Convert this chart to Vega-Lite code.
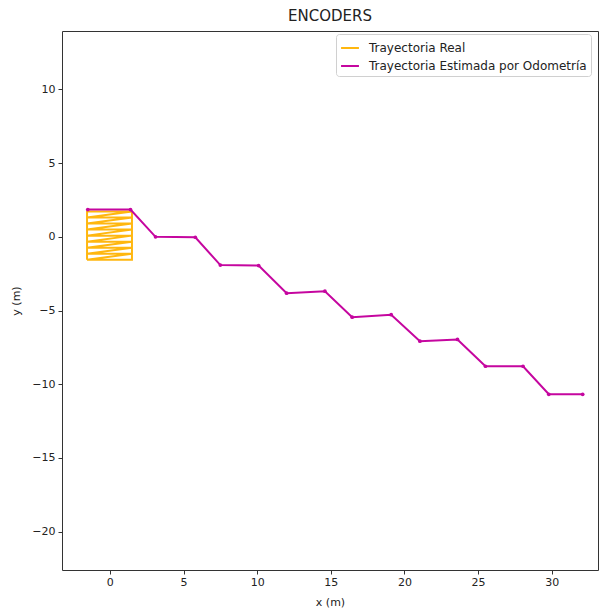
{
  "$schema": "https://vega.github.io/schema/vega-lite/v6.json",
  "width": 536,
  "height": 539,
  "autosize": {"type": "none"},
  "padding": {"left": 62, "top": 31, "right": 2, "bottom": 41},
  "title": {"text": "ENCODERS", "fontSize": 15, "fontWeight": "normal", "font": "DejaVu Sans", "color": "#222222", "offset": 7, "anchor": "middle"},
  "config": {
    "view": {"stroke": "#333333", "strokeWidth": 1},
    "font": "DejaVu Sans",
    "axis": {"grid": false, "domain": false, "tickColor": "#333333", "tickSize": 4, "labelFontSize": 11, "labelColor": "#222222", "labelFont": "DejaVu Sans", "titleFont": "DejaVu Sans", "titleFontSize": 11, "titleFontWeight": "normal", "titleColor": "#222222"}
  },
  "data": {
    "values": [
      {"serie": "Trayectoria Real", "i": 0, "x": -1.55, "y": 1.72},
      {"serie": "Trayectoria Real", "i": 1, "x": 1.5, "y": 1.72},
      {"serie": "Trayectoria Real", "i": 2, "x": -1.55, "y": 1.31},
      {"serie": "Trayectoria Real", "i": 3, "x": 1.5, "y": 1.31},
      {"serie": "Trayectoria Real", "i": 4, "x": -1.55, "y": 0.9},
      {"serie": "Trayectoria Real", "i": 5, "x": 1.5, "y": 0.9},
      {"serie": "Trayectoria Real", "i": 6, "x": -1.55, "y": 0.49},
      {"serie": "Trayectoria Real", "i": 7, "x": 1.5, "y": 0.49},
      {"serie": "Trayectoria Real", "i": 8, "x": -1.55, "y": 0.08},
      {"serie": "Trayectoria Real", "i": 9, "x": 1.5, "y": 0.08},
      {"serie": "Trayectoria Real", "i": 10, "x": -1.55, "y": -0.33},
      {"serie": "Trayectoria Real", "i": 11, "x": 1.5, "y": -0.33},
      {"serie": "Trayectoria Real", "i": 12, "x": -1.55, "y": -0.74},
      {"serie": "Trayectoria Real", "i": 13, "x": 1.5, "y": -0.74},
      {"serie": "Trayectoria Real", "i": 14, "x": -1.55, "y": -1.15},
      {"serie": "Trayectoria Real", "i": 15, "x": 1.5, "y": -1.15},
      {"serie": "Trayectoria Real", "i": 16, "x": -1.55, "y": -1.56},
      {"serie": "Trayectoria Real", "i": 17, "x": 1.5, "y": -1.56},
      {"serie": "Trayectoria Real", "i": 18, "x": 1.5, "y": 1.72},
      {"serie": "Trayectoria Real", "i": 19, "x": -1.55, "y": 1.72},
      {"serie": "Trayectoria Real", "i": 20, "x": -1.55, "y": -1.56},
      {"serie": "Trayectoria Estimada por Odometría", "i": 0, "x": -1.5, "y": 1.85},
      {"serie": "Trayectoria Estimada por Odometría", "i": 1, "x": 1.4, "y": 1.85},
      {"serie": "Trayectoria Estimada por Odometría", "i": 2, "x": 3.1, "y": 0.0},
      {"serie": "Trayectoria Estimada por Odometría", "i": 3, "x": 5.8, "y": -0.03},
      {"serie": "Trayectoria Estimada por Odometría", "i": 4, "x": 7.5, "y": -1.92},
      {"serie": "Trayectoria Estimada por Odometría", "i": 5, "x": 10.1, "y": -1.95},
      {"serie": "Trayectoria Estimada por Odometría", "i": 6, "x": 12.0, "y": -3.82},
      {"serie": "Trayectoria Estimada por Odometría", "i": 7, "x": 14.6, "y": -3.69},
      {"serie": "Trayectoria Estimada por Odometría", "i": 8, "x": 16.45, "y": -5.45},
      {"serie": "Trayectoria Estimada por Odometría", "i": 9, "x": 19.1, "y": -5.28},
      {"serie": "Trayectoria Estimada por Odometría", "i": 10, "x": 21.05, "y": -7.08},
      {"serie": "Trayectoria Estimada por Odometría", "i": 11, "x": 23.6, "y": -6.96},
      {"serie": "Trayectoria Estimada por Odometría", "i": 12, "x": 25.5, "y": -8.78},
      {"serie": "Trayectoria Estimada por Odometría", "i": 13, "x": 28.05, "y": -8.78},
      {"serie": "Trayectoria Estimada por Odometría", "i": 14, "x": 29.8, "y": -10.68},
      {"serie": "Trayectoria Estimada por Odometría", "i": 15, "x": 32.1, "y": -10.68}
    ]
  },
  "layer": [
    {
      "mark": {"type": "line", "strokeWidth": 2, "clip": true},
      "encoding": {
        "x": {"field": "x", "type": "quantitative", "scale": {"domain": [-3.25, 33.14], "nice": false, "zero": false}, "axis": {"values": [0, 5, 10, 15, 20, 25, 30], "title": "x (m)", "labelPadding": 2, "titlePadding": 9}},
        "y": {"field": "y", "type": "quantitative", "scale": {"domain": [-22.6, 13.96], "nice": false, "zero": false}, "axis": {"values": [-20, -15, -10, -5, 0, 5, 10], "title": "y (m)", "labelPadding": 3, "titlePadding": 10}},
        "color": {
          "field": "serie", "type": "nominal",
          "scale": {"domain": ["Trayectoria Real", "Trayectoria Estimada por Odometría"], "range": ["#ffb70f", "#c5069f"]},
          "legend": {"title": null, "orient": "none", "legendX": 274, "legendY": 3, "symbolType": "stroke", "symbolStrokeWidth": 2, "symbolSize": 320, "labelFontSize": 12, "labelLimit": 0, "labelColor": "#222222", "labelFont": "DejaVu Sans", "strokeColor": "#d0d0d0", "fillColor": "#ffffff", "padding": 4, "cornerRadius": 3, "rowPadding": 2, "labelOffset": 9}
        },
        "order": {"field": "i", "type": "quantitative"}
      }
    },
    {
      "transform": [{"filter": "datum.serie !== 'Trayectoria Real'"}],
      "mark": {"type": "point", "filled": true, "size": 14, "color": "#c5069f", "opacity": 1},
      "encoding": {
        "x": {"field": "x", "type": "quantitative"},
        "y": {"field": "y", "type": "quantitative"}
      }
    }
  ]
}
